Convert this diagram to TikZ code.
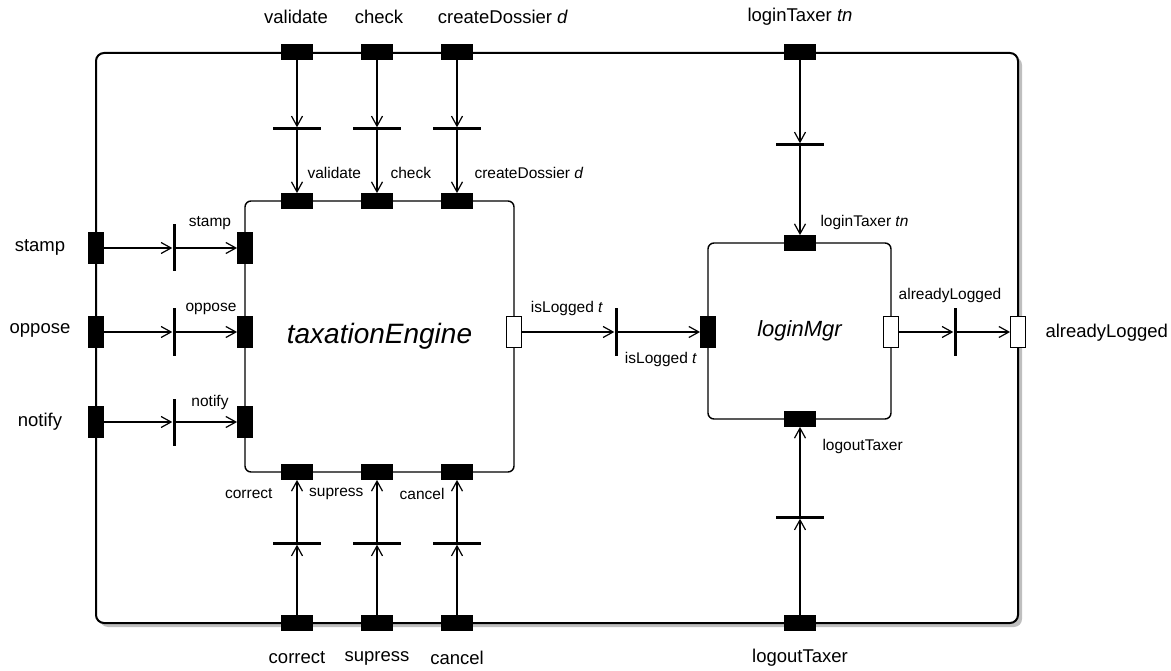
\documentclass[tikz,border=0pt]{standalone}
\usepackage{fontspec}
\setmainfont{Liberation Sans}
\usetikzlibrary{arrows.meta,shadows}

\begin{document}
\begin{tikzpicture}[x=1pt,y=-1pt,
  port/.style={draw,fill=black,inner sep=0pt,line width=.8pt},
  hport/.style={port,minimum width=31pt,minimum height=15pt},
  vport/.style={port,minimum width=15pt,minimum height=31pt},
  wport/.style={vport,fill=white},
  hbar/.style={fill=black,inner sep=0pt,minimum width=48pt,minimum height=3pt},
  vbar/.style={fill=black,inner sep=0pt,minimum width=3pt,minimum height=47pt},
  conn/.style={line width=1.2pt,-{Straight Barb[length=10pt,width=11pt]}},
  big/.style={font=\fontsize{18.5}{20}\selectfont},
  small/.style={font=\fontsize{15.5}{17}\selectfont}]
\useasboundingbox (0,0) rectangle (1171,671);

% components
\path (557,338) node(sys)[draw,fill=white,line width=2pt,rounded corners=8pt,minimum width=922pt,minimum height=570pt,
      drop shadow={shadow xshift=4pt,shadow yshift=-4pt,opacity=.5}]{}
(379.5,336.5) node(te)[draw,line width=1.4pt,rounded corners=6pt,minimum width=269pt,minimum height=271pt,
      font=\fontsize{28}{30}\selectfont\itshape]{taxationEngine}
(799.5,331) node(lm)[draw,line width=1.4pt,rounded corners=6pt,minimum width=183pt,minimum height=176pt,
      font=\fontsize{22}{24}\selectfont\itshape]{loginMgr};

% top
\path (297,52) node(vO)[hport]{} (297,129) node(vB)[hbar]{} (297,201) node(vI)[hport]{}
(377,52) node(cO)[hport]{} (377,129) node(cB)[hbar]{} (377,201) node(cI)[hport]{}
(457,52) node(dO)[hport]{} (457,129) node(dB)[hbar]{} (457,201) node(dI)[hport]{}
(800,52) node(lO)[hport]{} (800,145) node(lB)[hbar]{} (800,243) node(lI)[hport]{};
% bottom
\path (297,623) node(rO)[hport]{} (297,543) node(rB)[hbar]{} (297,472) node(rI)[hport]{}
(377,623) node(sO)[hport]{} (377,543) node(sB)[hbar]{} (377,472) node(sI)[hport]{}
(457,623) node(kO)[hport]{} (457,543) node(kB)[hbar]{} (457,472) node(kI)[hport]{}
(800,623) node(oO)[hport]{} (800,517) node(oB)[hbar]{} (800,419) node(oI)[hport]{};
% left
\path (96,248) node(stO)[vport]{} (174,248) node(stB)[vbar]{} (245,248) node(stI)[vport]{}
(96,332) node(opO)[vport]{} (174,332) node(opB)[vbar]{} (245,332) node(opI)[vport]{}
(96,422) node(nO)[vport]{} (174,422) node(nB)[vbar]{} (245,422) node(nI)[vport]{};
% middle
\path (514,332) node(iO)[wport]{} (616,332) node(iB)[vbar]{} (708,332) node(iI)[vport]{}
(891,332) node(aO)[wport]{} (955,332) node(aB)[vbar]{} (1018,332) node(aX)[wport]{};

\foreach \a/\b/\c in {vO/vB/vI,cO/cB/cI,dO/dB/dI,lO/lB/lI,rO/rB/rI,sO/sB/sI,kO/kB/kI,oO/oB/oI,
  stO/stB/stI,opO/opB/opI,nO/nB/nI,iO/iB/iI,aO/aB/aX}
  \draw[conn] (\a) -- (\b); 
\foreach \a/\b/\c in {vO/vB/vI,cO/cB/cI,dO/dB/dI,lO/lB/lI,rO/rB/rI,sO/sB/sI,kO/kB/kI,oO/oB/oI,
  stO/stB/stI,opO/opB/opI,nO/nB/nI,iO/iB/iI,aO/aB/aX}
  \draw[conn] (\b.center) -- (\c);

% labels
\path[big] (296,17) node(t1){validate} (379,17) node(t2){check}
(503,17) node(t3){createDossier \textit{d}} (800,17) node(t4){loginTaxer \textit{tn}}
(297,658) node(b1){correct} (377,658) node(b2){supress}
(457,658) node(b3){cancel} (800,658) node(b4){logoutTaxer}
(40,247) node(l1){stamp} (40,330) node(l2){oppose} (40,422) node(l3){notify}
(1042,333) node(r1)[anchor=west]{alreadyLogged};
\path[small] (304,173) node(u1)[anchor=west]{validate} (387,173) node(u2)[anchor=west]{check}
(471,173) node(u3)[anchor=west]{createDossier \textit{d}}
(276,494) node(d1)[anchor=east]{correct} (367,494) node(d2)[anchor=east]{supress}
(448,494) node(d3)[anchor=east]{cancel}
(210,223) node(m1){stamp} (211,309) node(m2){oppose} (210,402) node(m3){notify}
(567,308) node(i1){isLogged \textit{t}} (661,359) node(i2){isLogged \textit{t}}
(950,295) node(a1){alreadyLogged}
(817,222) node(g1)[anchor=west]{loginTaxer \textit{tn}} (819,446) node(g2)[anchor=west]{logoutTaxer};
\end{tikzpicture}
\end{document}
